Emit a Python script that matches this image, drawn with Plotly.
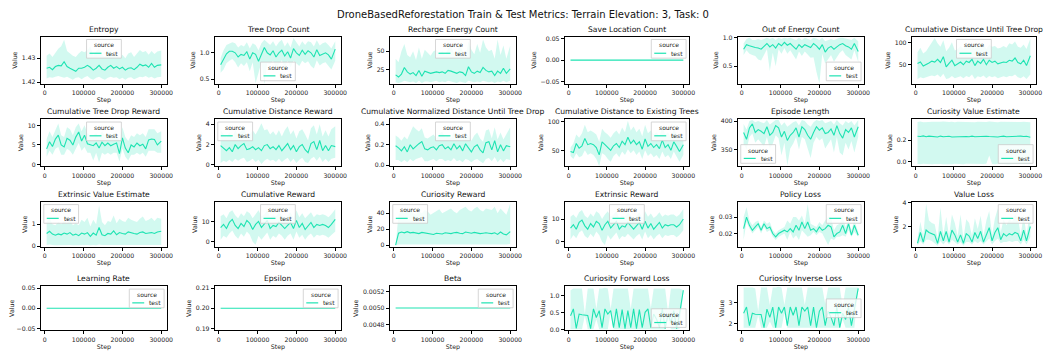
import plotly.graph_objects as go

# training steps shared by every metric
STEPS = [5000, 12500, 20000, 27500, 35000, 42500, 50000, 57500, 65000, 72500,
         80000, 87500, 95000, 102500, 110000, 117500, 125000, 132500, 140000, 147500,
         155000, 162500, 170000, 177500, 185000, 192500, 200000, 207500, 215000, 222500,
         230000, 237500, 245000, 252500, 260000, 267500, 275000, 282500, 290000, 300000]

entropy_mean = [1.4258, 1.4262, 1.4252, 1.4265, 1.4270, 1.4268, 1.4285, 1.4265, 1.4258, 1.4250,
                1.4245, 1.4258, 1.4258, 1.4262, 1.4270, 1.4262, 1.4250, 1.4258, 1.4270, 1.4255,
                1.4250, 1.4262, 1.4270, 1.4258, 1.4265, 1.4255, 1.4262, 1.4250, 1.4258, 1.4260,
                1.4252, 1.4262, 1.4275, 1.4268, 1.4272, 1.4262, 1.4278, 1.4262, 1.4270, 1.4272]
entropy_lo = [1.4215, 1.4220, 1.4218, 1.4222, 1.4225, 1.4220, 1.4218, 1.4222, 1.4215, 1.4210,
              1.4218, 1.4220, 1.4212, 1.4220, 1.4225, 1.4215, 1.4210, 1.4218, 1.4222, 1.4215,
              1.4210, 1.4218, 1.4222, 1.4218, 1.4220, 1.4212, 1.4218, 1.4210, 1.4218, 1.4220,
              1.4212, 1.4218, 1.4222, 1.4220, 1.4225, 1.4218, 1.4222, 1.4215, 1.4220, 1.4222]
entropy_hi = [1.4310, 1.4320, 1.4305, 1.4325, 1.4340, 1.4350, 1.4378, 1.4330, 1.4320, 1.4310,
              1.4305, 1.4320, 1.4330, 1.4325, 1.4335, 1.4350, 1.4310, 1.4330, 1.4340, 1.4315,
              1.4305, 1.4335, 1.4330, 1.4310, 1.4320, 1.4300, 1.4315, 1.4300, 1.4320, 1.4325,
              1.4305, 1.4318, 1.4335, 1.4325, 1.4330, 1.4315, 1.4330, 1.4318, 1.4328, 1.4332]

tree_mean = [0.77, 0.88, 0.98, 1.03, 1.03, 1.00, 0.92, 0.97, 0.95, 1.02,
             0.88, 1.00, 0.97, 0.84, 0.98, 1.10, 1.00, 0.96, 1.04, 0.92,
             1.00, 1.05, 0.94, 1.02, 0.90, 1.08, 1.00, 0.95, 1.05, 0.97,
             1.04, 1.00, 0.92, 1.06, 0.95, 0.98, 1.00, 0.96, 0.88, 1.07]
tree_lo = [0.62, 0.68, 0.80, 0.85, 0.88, 0.82, 0.72, 0.80, 0.75, 0.82,
           0.65, 0.82, 0.42, 0.60, 0.82, 0.40, 0.80, 0.78, 0.85, 0.70,
           0.78, 0.86, 0.72, 0.85, 0.72, 0.85, 0.80, 0.75, 0.85, 0.80,
           0.84, 0.75, 0.70, 0.86, 0.76, 0.80, 0.82, 0.75, 0.68, 0.85]
tree_hi = [0.90, 1.05, 1.15, 1.18, 1.20, 1.18, 1.10, 1.15, 1.12, 1.20,
           1.08, 1.18, 1.15, 1.05, 1.18, 1.25, 1.20, 1.15, 1.22, 1.12,
           1.20, 1.25, 1.12, 1.20, 1.10, 1.28, 1.20, 1.12, 1.22, 1.15,
           1.22, 1.20, 1.12, 1.24, 1.14, 1.18, 1.20, 1.15, 1.08, 1.22]

recharge_mean = [18, 15, 19, 28, 22, 19, 21, 17, 24, 16,
                 23, 22, 20, 21, 22, 21, 22, 20, 24, 23,
                 21, 20, 22, 21, 17, 29, 22, 20, 23, 21,
                 28, 24, 22, 23, 17, 23, 20, 27, 20, 26]
recharge_lo = [8, 7, 8, 10, 9, 8, 9, 7, 10, 7,
               9, 9, 8, 9, 10, 8, 9, 8, 10, 9,
               8, 7, 9, 8, 7, 10, 9, 8, 9, 8,
               10, 9, 8, 9, 7, 9, 8, 10, 8, 10]
recharge_hi = [40, 35, 50, 60, 45, 42, 50, 38, 55, 40,
               52, 48, 44, 50, 52, 46, 50, 45, 54, 56,
               48, 45, 62, 50, 42, 64, 52, 46, 60, 48,
               66, 55, 50, 52, 40, 66, 45, 58, 40, 58]

save_mean = [0, 0, 0, 0, 0, 0, 0, 0, 0, 0,
             0, 0, 0, 0, 0, 0, 0, 0, 0, 0,
             0, 0, 0, 0, 0, 0, 0, 0, 0, 0,
             0, 0, 0, 0, 0, 0, 0, 0, 0, 0]

energy_mean = [0.80, 0.88, 0.86, 0.84, 0.83, 0.82, 0.80, 0.85, 0.90, 0.84,
               0.88, 0.82, 0.90, 0.86, 0.92, 0.87, 0.90, 0.85, 0.80, 0.88,
               0.83, 0.88, 0.85, 0.83, 0.90, 0.86, 0.80, 0.88, 0.75, 0.82,
               0.85, 0.80, 0.84, 0.88, 0.90, 0.86, 0.84, 0.80, 0.90, 0.76]
energy_lo = [0.70, 0.78, 0.72, 0.70, 0.68, 0.62, 0.60, 0.70, 0.80, 0.42,
             0.74, 0.50, 0.80, 0.72, 0.82, 0.72, 0.78, 0.70, 0.62, 0.76,
             0.68, 0.76, 0.70, 0.65, 0.66, 0.40, 0.20, 0.72, 0.55, 0.62,
             0.70, 0.58, 0.66, 0.74, 0.78, 0.70, 0.66, 0.62, 0.78, 0.58]
energy_hi = [0.90, 0.98, 1.00, 0.96, 0.96, 0.98, 0.96, 0.98, 1.00, 0.98,
             1.00, 0.96, 1.00, 0.98, 1.00, 0.99, 1.00, 0.98, 0.96, 1.00,
             0.96, 1.00, 0.98, 0.96, 1.00, 0.99, 0.96, 1.00, 0.94, 0.96,
             0.98, 0.96, 0.98, 1.00, 1.00, 0.99, 0.98, 0.96, 1.00, 0.94]

dist_drop_mean = [53, 56, 47, 50, 54, 58, 56, 62, 55, 68,
                  45, 53, 60, 48, 52, 56, 50, 58, 55, 62,
                  48, 58, 53, 62, 50, 60, 55, 58, 52, 54,
                  56, 55, 60, 58, 65, 55, 52, 60, 48, 70]
dist_drop_lo = [18, 22, 20, 22, 24, 26, 24, 28, 22, 30,
                18, 20, 25, 20, 22, 24, 20, 25, 22, 28,
                18, 24, 22, 26, 20, 25, 22, 24, 20, 22,
                24, 22, 25, 24, 28, 22, 20, 24, 18, 28]
dist_drop_hi = [78, 88, 75, 80, 90, 100, 110, 98, 90, 105,
                80, 88, 100, 82, 85, 92, 85, 95, 90, 98,
                85, 95, 88, 98, 85, 95, 90, 92, 86, 88,
                92, 88, 98, 95, 102, 90, 88, 95, 85, 108]

tree_rew_mean = [4.0, 5.8, 4.6, 6.5, 7.5, 5.0, 4.5, 6.7, 6.2, 5.0,
                 7.0, 8.3, 6.0, 7.5, 5.3, 5.0, 4.8, 5.5, 4.2, 5.7,
                 4.8, 5.5, 4.8, 5.2, 5.5, 2.8, 6.8, 4.2, 3.0, 5.0,
                 4.5, 5.5, 4.8, 5.2, 4.0, 6.3, 6.5, 6.4, 5.0, 6.0]
tree_rew_lo = [2.0, 3.5, 2.5, 4.0, 4.5, 2.5, 2.5, 4.0, 3.5, 2.5,
               4.0, 5.5, 3.5, 4.5, 3.0, 3.0, 1.0, 3.0, 0.5, 3.0,
               2.5, 3.0, 2.5, 3.0, 3.0, 0.8, 4.0, 2.0, 1.0, 2.5,
               2.5, 3.0, 2.5, 3.0, 2.0, 3.5, 3.5, 3.5, 3.0, 3.0]
tree_rew_hi = [6.5, 8.5, 7.0, 9.0, 10.5, 7.5, 7.0, 9.5, 9.0, 7.5,
               9.5, 10.5, 8.5, 10.0, 8.0, 7.5, 7.5, 8.0, 7.0, 8.5,
               7.5, 8.0, 7.5, 8.0, 8.0, 6.0, 9.5, 7.0, 6.0, 7.5,
               7.0, 8.0, 7.5, 8.0, 7.0, 9.0, 9.0, 9.0, 8.0, 8.5]

dist_rew_mean = [1.9, 1.6, 1.4, 1.7, 1.3, 2.0, 1.6, 1.9, 2.1, 1.5,
                 1.6, 1.8, 1.5, 1.7, 1.4, 1.9, 2.0, 1.6, 1.8, 1.5,
                 1.9, 1.4, 1.8, 2.1, 1.5, 1.9, 1.3, 1.8, 2.0, 1.5,
                 1.2, 2.1, 2.3, 1.5, 2.4, 1.4, 1.9, 1.4, 1.9, 1.8]
dist_rew_lo = [0.2, 0.4, 0.3, 0.5, 0.3, 0.6, 0.4, 0.6, 0.7, 0.3,
               0.4, 0.6, 0.3, 0.5, 0.1, 0.4, 0.6, 0.4, 0.5, 0.3,
               0.6, 0.3, 0.5, 0.7, 0.3, 0.6, 0.2, 0.5, 0.7, 0.3,
               0.2, 0.6, 0.8, 0.4, 0.8, 0.3, 0.6, 0.3, 0.6, 0.7]
dist_rew_hi = [3.4, 3.0, 2.7, 3.2, 2.6, 3.4, 3.0, 3.3, 3.6, 2.9,
               3.0, 3.4, 3.0, 3.5, 4.1, 3.4, 3.5, 3.0, 3.3, 2.9,
               3.4, 2.8, 3.4, 3.8, 3.0, 3.4, 2.6, 3.3, 3.5, 3.0,
               2.4, 3.6, 3.9, 3.0, 4.0, 2.8, 3.4, 2.8, 3.5, 3.8]

norm_mean = [0.19, 0.17, 0.14, 0.18, 0.13, 0.20, 0.16, 0.19, 0.21, 0.23,
             0.16, 0.15, 0.17, 0.18, 0.15, 0.19, 0.20, 0.16, 0.18, 0.15,
             0.21, 0.16, 0.19, 0.14, 0.21, 0.17, 0.13, 0.18, 0.20, 0.15,
             0.12, 0.22, 0.23, 0.15, 0.24, 0.13, 0.20, 0.14, 0.19, 0.18]
norm_lo = [0.05, 0.05, 0.03, 0.05, 0.03, 0.06, 0.04, 0.06, 0.07, 0.08,
           0.04, 0.04, 0.05, 0.06, 0.04, 0.06, 0.06, 0.04, 0.05, 0.04,
           0.07, 0.04, 0.05, 0.03, 0.06, 0.05, 0.03, 0.05, 0.06, 0.04,
           0.02, 0.06, 0.07, 0.04, 0.08, 0.03, 0.06, 0.03, 0.06, 0.05]
norm_hi = [0.29, 0.27, 0.24, 0.28, 0.25, 0.32, 0.38, 0.35, 0.33, 0.36,
           0.27, 0.26, 0.28, 0.30, 0.26, 0.31, 0.33, 0.27, 0.29, 0.26,
           0.33, 0.27, 0.30, 0.25, 0.33, 0.28, 0.24, 0.29, 0.32, 0.26,
           0.23, 0.34, 0.35, 0.26, 0.37, 0.25, 0.32, 0.25, 0.30, 0.37]

exist_mean = [48, 46, 62, 54, 58, 71, 60, 62, 60, 55,
              42, 65, 60, 55, 50, 58, 62, 55, 66, 60,
              73, 62, 68, 60, 65, 52, 70, 57, 62, 55,
              60, 53, 68, 55, 60, 50, 65, 57, 48, 60]
exist_lo = [40, 35, 45, 38, 40, 50, 42, 45, 42, 35,
            22, 45, 42, 35, 30, 40, 45, 38, 48, 42,
            52, 45, 50, 42, 48, 35, 50, 40, 45, 38,
            42, 35, 48, 38, 42, 35, 48, 40, 30, 42]
exist_hi = [55, 62, 78, 72, 80, 95, 82, 85, 82, 78,
            65, 88, 82, 78, 72, 80, 85, 78, 90, 82,
            102, 85, 92, 82, 88, 75, 95, 80, 85, 78,
            82, 75, 92, 78, 82, 72, 88, 80, 70, 82]

ep_len_mean = [380, 368, 388, 395, 380, 385, 382, 378, 390, 375,
               380, 392, 388, 372, 382, 366, 375, 380, 388, 372,
               390, 385, 375, 368, 380, 390, 384, 388, 378, 380,
               386, 375, 392, 378, 370, 385, 380, 388, 372, 390]
ep_len_lo = [360, 350, 372, 378, 362, 368, 362, 355, 372, 352,
             360, 375, 370, 340, 362, 322, 352, 360, 372, 350,
             372, 368, 352, 335, 362, 372, 366, 370, 352, 360,
             368, 345, 372, 345, 340, 362, 350, 365, 345, 372]
ep_len_hi = [395, 385, 400, 402, 398, 400, 398, 396, 402, 394,
             398, 402, 402, 392, 398, 390, 394, 398, 400, 392,
             402, 400, 394, 390, 398, 402, 400, 402, 396, 398,
             400, 394, 402, 396, 392, 400, 396, 400, 392, 402]

cur_val_mean = [0.235, 0.232, 0.238, 0.230, 0.236, 0.232, 0.234, 0.228, 0.236, 0.230,
                0.232, 0.234, 0.228, 0.230, 0.232, 0.230, 0.234, 0.232, 0.230, 0.236,
                0.230, 0.232, 0.228, 0.230, 0.234, 0.232, 0.230, 0.234, 0.228, 0.232,
                0.236, 0.230, 0.232, 0.234, 0.230, 0.232, 0.236, 0.232, 0.234, 0.226]
cur_val_lo = [-0.018, -0.020, -0.016, -0.019, -0.017, -0.020, -0.018, -0.016, -0.019, -0.020,
              -0.017, -0.018, -0.020, -0.016, -0.019, -0.018, -0.020, -0.017, -0.019, -0.018,
              -0.016, -0.020, -0.018, -0.019, -0.017, 0.060, -0.018, -0.020, -0.016, -0.019,
              -0.018, -0.017, -0.020, -0.018, -0.019, -0.016, -0.018, -0.020, -0.017, -0.018]
cur_val_hi = [0.365, 0.368, 0.362, 0.366, 0.364, 0.367, 0.365, 0.363, 0.366, 0.368,
              0.364, 0.365, 0.367, 0.363, 0.366, 0.365, 0.368, 0.364, 0.366, 0.365,
              0.363, 0.367, 0.365, 0.366, 0.364, 0.368, 0.365, 0.367, 0.363, 0.366,
              0.365, 0.364, 0.367, 0.365, 0.366, 0.363, 0.365, 0.367, 0.364, 0.362]

ext_val_mean = [0.58, 0.68, 0.55, 0.50, 0.56, 0.52, 0.60, 0.55, 0.62, 0.50,
                0.55, 0.48, 0.60, 0.55, 0.62, 0.45, 0.60, 0.50, 0.85, 0.52,
                0.48, 0.58, 0.55, 0.70, 0.52, 0.62, 0.58, 0.55, 0.65, 0.60,
                0.58, 0.55, 0.62, 0.65, 0.58, 0.60, 0.62, 0.58, 0.65, 0.68]
ext_val_lo = [0.05, 0.08, 0.05, 0.04, 0.05, 0.05, 0.06, 0.05, 0.06, 0.04,
              0.05, 0.04, 0.06, 0.05, 0.06, 0.04, 0.06, 0.04, 0.08, 0.05,
              0.04, 0.05, 0.05, 0.06, 0.05, 0.06, 0.05, 0.05, 0.06, 0.05,
              0.05, 0.05, 0.06, 0.06, 0.05, 0.05, 0.06, 0.05, 0.06, 0.06]
ext_val_hi = [1.10, 1.30, 1.00, 0.95, 1.10, 1.00, 1.15, 1.05, 1.20, 0.95,
              1.05, 0.95, 1.20, 1.10, 1.30, 0.90, 1.20, 1.00, 1.85, 1.10,
              0.95, 1.15, 1.10, 1.40, 1.05, 1.25, 1.15, 1.10, 1.30, 1.20,
              1.15, 1.10, 1.25, 1.35, 1.15, 1.20, 1.30, 1.15, 1.30, 1.25]

cum_rew_mean = [7.0, 8.5, 6.5, 9.5, 11.0, 8.0, 6.5, 9.0, 7.5, 10.5,
                9.0, 6.0, 8.5, 10.0, 7.0, 8.5, 10.5, 6.5, 8.0, 7.5,
                9.5, 8.0, 6.5, 8.0, 9.5, 6.5, 10.5, 7.0, 9.0, 6.0,
                8.0, 9.5, 7.0, 8.5, 8.0, 8.5, 8.0, 7.0, 8.5, 11.0]
cum_rew_lo = [1.0, 3.0, 2.0, 4.0, 5.5, 3.0, 1.5, 4.0, 2.5, 5.0,
              3.5, 0.0, -1.5, 3.0, 1.0, 2.5, 4.5, 1.0, 3.0, 2.0,
              4.0, 3.0, 1.0, 3.0, 4.0, 1.0, 5.0, 2.0, 3.5, 1.0,
              3.0, 4.0, 2.0, 3.5, 3.0, 3.5, 3.0, 2.0, 3.5, 5.0]
cum_rew_hi = [12.5, 13.5, 11.5, 14.5, 15.5, 13.0, 11.5, 14.0, 12.5, 15.0,
              14.0, 11.5, 13.5, 15.5, 12.5, 13.5, 15.5, 12.0, 13.0, 12.5,
              14.5, 13.0, 11.5, 13.0, 14.5, 11.5, 15.5, 12.0, 14.0, 11.5,
              13.0, 14.5, 12.0, 13.5, 13.0, 13.5, 13.0, 12.0, 13.5, 16.0]

cur_rew_mean = [0.0, 15.0, 16.5, 15.5, 17.0, 15.5, 16.0, 15.0, 14.5, 16.0,
                15.5, 15.0, 14.0, 13.5, 15.0, 14.5, 14.0, 15.5, 15.0, 14.5,
                15.5, 16.0, 15.0, 14.5, 16.5, 15.5, 15.0, 16.0, 15.5, 14.5,
                15.0, 15.5, 15.0, 14.5, 15.5, 13.5, 16.5, 14.0, 13.0, 17.0]
cur_rew_lo = [0.0, 1.0, 1.5, 1.0, 1.5, 1.0, 1.5, 1.0, 1.0, 1.5,
              1.0, 1.0, 1.0, 1.0, 1.0, 1.0, 1.0, 1.5, 1.0, 1.0,
              1.5, 1.5, 1.0, 1.0, 1.5, 1.0, 1.0, 1.5, 1.0, 1.0,
              1.0, 1.5, 1.0, 1.0, 1.5, 1.0, 1.5, 1.0, 1.0, 1.5]
cur_rew_hi = [0.0, 38, 43, 40, 42, 44, 40, 38, 42, 40,
              44, 42, 38, 40, 42, 45, 40, 42, 44, 46,
              42, 40, 44, 46, 48, 44, 42, 46, 48, 44,
              42, 46, 45, 44, 48, 40, 46, 42, 38, 52]

ext_rew_mean = [6.0, 7.5, 5.5, 8.5, 9.5, 7.0, 5.5, 8.0, 6.5, 9.0,
                8.0, 5.0, 7.5, 9.0, 6.0, 7.5, 9.0, 5.5, 7.0, 6.5,
                8.5, 7.0, 5.5, 7.0, 8.5, 5.5, 9.0, 6.0, 8.0, 5.5,
                7.0, 8.5, 6.0, 7.5, 7.0, 7.5, 7.5, 6.5, 7.5, 10.0]
ext_rew_lo = [1.0, 3.0, 1.5, 4.0, 5.0, 2.5, 1.5, 3.5, 2.0, 4.5,
              3.0, 0.0, -1.5, 3.0, 1.0, 2.5, 4.0, 1.0, 2.5, 2.0,
              3.5, 2.5, 1.0, 2.5, 3.5, 1.0, 4.5, 1.5, 3.0, 1.0,
              2.5, 3.5, 1.5, 3.0, 2.5, 3.0, 3.0, 2.0, 3.0, 5.0]
ext_rew_hi = [11.0, 12.0, 10.5, 13.0, 14.0, 11.5, 10.5, 12.5, 11.0, 13.5,
              12.5, 10.0, 12.0, 13.5, 11.0, 12.0, 13.5, 10.5, 11.5, 11.0,
              13.0, 11.5, 10.0, 11.5, 13.0, 10.5, 13.5, 11.0, 12.5, 10.5,
              11.5, 13.0, 11.0, 12.0, 11.5, 12.0, 12.0, 11.0, 12.0, 14.5]

pol_mean = [0.023, 0.030, 0.025, 0.022, 0.024, 0.026, 0.022, 0.026, 0.023, 0.024,
            0.020, 0.018, 0.020, 0.021, 0.022, 0.021, 0.023, 0.021, 0.025, 0.022,
            0.027, 0.023, 0.027, 0.022, 0.023, 0.021, 0.024, 0.022, 0.023, 0.025,
            0.024, 0.018, 0.020, 0.021, 0.025, 0.020, 0.026, 0.019, 0.025, 0.019]
pol_lo = [0.016, 0.027, 0.023, 0.020, 0.022, 0.024, 0.020, 0.024, 0.021, 0.022,
          0.018, 0.016, 0.018, 0.019, 0.020, 0.016, 0.021, 0.017, 0.019, 0.016,
          0.022, 0.020, 0.018, 0.019, 0.021, 0.019, 0.021, 0.020, 0.017, 0.013,
          0.017, 0.016, 0.018, 0.018, 0.019, 0.018, 0.022, 0.018, 0.021, 0.018]
pol_hi = [0.030, 0.036, 0.028, 0.025, 0.027, 0.028, 0.024, 0.028, 0.026, 0.027,
          0.022, 0.020, 0.022, 0.023, 0.024, 0.028, 0.026, 0.030, 0.030, 0.028,
          0.031, 0.026, 0.038, 0.026, 0.025, 0.024, 0.027, 0.025, 0.028, 0.030,
          0.030, 0.022, 0.025, 0.026, 0.030, 0.024, 0.028, 0.022, 0.028, 0.021]

vloss_mean = [0.6, 1.5, 0.7, 1.7, 1.5, 1.4, 1.3, 0.6, 1.6, 0.8,
              1.6, 0.7, 1.7, 1.3, 0.7, 1.3, 0.6, 1.4, 1.2, 0.7,
              1.5, 1.0, 1.6, 0.7, 1.3, 1.9, 0.8, 1.5, 1.9, 0.9,
              1.4, 1.2, 1.4, 1.3, 1.5, 1.4, 0.8, 1.7, 0.8, 2.0]
vloss_lo = [0.4, 0.8, 0.5, 0.9, 0.9, 0.8, 0.6, 0.4, 0.8, 0.5,
            0.8, 0.5, 0.9, 0.7, 0.5, 0.7, 0.4, 0.7, 0.7, 0.5,
            0.8, 0.6, 0.8, 0.5, 0.7, 1.0, 0.5, 0.8, 1.0, 0.6,
            0.7, 0.7, 0.8, 0.7, 0.8, 0.8, 0.5, 0.9, 0.5, 1.1]
vloss_hi = [1.0, 2.4, 1.2, 3.9, 2.5, 2.3, 2.2, 1.0, 3.6, 1.3,
            2.8, 1.2, 3.0, 2.3, 1.2, 3.0, 1.0, 2.6, 2.3, 1.2,
            2.7, 1.8, 2.9, 1.2, 2.5, 3.3, 1.3, 2.7, 3.5, 1.5,
            2.6, 2.1, 2.6, 2.4, 3.0, 2.7, 1.3, 3.0, 1.3, 3.5]

lr_mean = save_mean
eps_mean = [0.2, 0.2, 0.2, 0.2, 0.2, 0.2, 0.2, 0.2, 0.2, 0.2,
            0.2, 0.2, 0.2, 0.2, 0.2, 0.2, 0.2, 0.2, 0.2, 0.2,
            0.2, 0.2, 0.2, 0.2, 0.2, 0.2, 0.2, 0.2, 0.2, 0.2,
            0.2, 0.2, 0.2, 0.2, 0.2, 0.2, 0.2, 0.2, 0.2, 0.2]
beta_mean = [0.005, 0.005, 0.005, 0.005, 0.005, 0.005, 0.005, 0.005, 0.005, 0.005,
             0.005, 0.005, 0.005, 0.005, 0.005, 0.005, 0.005, 0.005, 0.005, 0.005,
             0.005, 0.005, 0.005, 0.005, 0.005, 0.005, 0.005, 0.005, 0.005, 0.005,
             0.005, 0.005, 0.005, 0.005, 0.005, 0.005, 0.005, 0.005, 0.005, 0.005]

fwd_mean = [0.40, 0.60, 0.03, 0.45, 0.43, 0.42, 0.41, 0.02, 0.60, 0.35,
            0.55, 0.05, 0.60, 0.45, 0.55, 0.05, 0.60, 0.05, 0.58, 0.02,
            0.55, 0.05, 0.60, 0.02, 0.58, 0.05, 0.50, 0.60, 0.05, 0.45,
            0.30, 0.05, 0.60, 0.02, 0.45, 0.20, 0.55, 0.02, 0.45, 1.15]
fwd_lo = [0.00, 0.00, 0.00, 0.00, 0.00, 0.40, 0.00, 0.00, 0.00, 0.30,
          0.00, 0.00, 0.00, 0.00, 0.50, 0.00, 0.00, 0.00, 0.00, 0.00,
          0.00, 0.00, 0.00, 0.00, 0.00, 0.00, 0.00, 0.00, 0.00, 0.00,
          0.00, 0.00, 0.00, 0.00, 0.30, 0.00, 0.00, 0.00, 0.00, 1.10]
fwd_hi = [1.15, 1.20, 1.20, 1.20, 1.20, 0.45, 1.20, 1.20, 1.20, 0.60,
          1.20, 1.20, 1.22, 1.20, 0.60, 1.20, 1.20, 1.20, 1.22, 1.20,
          1.20, 0.60, 1.20, 1.20, 1.20, 1.18, 1.20, 1.20, 0.62, 1.20,
          1.20, 1.20, 1.20, 1.20, 0.50, 1.20, 1.20, 1.20, 1.20, 1.15]

inv_mean = [2.50, 2.80, 1.90, 2.50, 2.45, 2.45, 2.44, 1.80, 2.70, 2.30,
            2.80, 1.80, 2.80, 2.50, 2.80, 1.90, 2.80, 2.40, 2.80, 1.90,
            2.80, 2.60, 2.80, 1.90, 2.80, 1.80, 2.60, 2.80, 1.90, 2.60,
            2.30, 1.90, 2.80, 1.80, 2.50, 2.20, 2.80, 1.90, 2.60, 3.70]
inv_lo = [1.80, 1.80, 1.80, 1.80, 1.80, 2.40, 1.80, 1.78, 1.80, 2.10,
          1.80, 1.78, 1.80, 1.80, 2.50, 1.80, 1.80, 1.80, 1.80, 1.80,
          1.80, 1.80, 1.80, 1.80, 1.80, 1.78, 1.80, 1.80, 1.80, 1.80,
          1.80, 1.80, 1.80, 1.78, 2.20, 1.80, 1.80, 1.80, 1.80, 3.65]
inv_hi = [3.75, 3.75, 3.75, 3.75, 3.70, 2.60, 3.75, 3.75, 3.75, 2.90,
          3.75, 3.75, 3.78, 3.75, 2.90, 3.75, 3.75, 3.75, 3.78, 3.75,
          3.75, 2.90, 3.75, 3.75, 3.75, 3.72, 3.75, 3.75, 2.95, 3.75,
          3.75, 3.75, 3.75, 3.75, 2.80, 3.75, 3.75, 3.75, 3.75, 3.75]

# title, mean, lower band, upper band
metrics = [
    ("Entropy", entropy_mean, entropy_lo, entropy_hi),
    ("Tree Drop Count", tree_mean, tree_lo, tree_hi),
    ("Recharge Energy Count", recharge_mean, recharge_lo, recharge_hi),
    ("Save Location Count", save_mean, save_mean, save_mean),
    ("Out of Energy Count", energy_mean, energy_lo, energy_hi),
    ("Cumulative Distance Until Tree Drop", dist_drop_mean, dist_drop_lo, dist_drop_hi),
    ("Cumulative Tree Drop Reward", tree_rew_mean, tree_rew_lo, tree_rew_hi),
    ("Cumulative Distance Reward", dist_rew_mean, dist_rew_lo, dist_rew_hi),
    ("Cumulative Normalized Distance Until Tree Drop", norm_mean, norm_lo, norm_hi),
    ("Cumulative Distance to Existing Trees", exist_mean, exist_lo, exist_hi),
    ("Episode Length", ep_len_mean, ep_len_lo, ep_len_hi),
    ("Curiosity Value Estimate", cur_val_mean, cur_val_lo, cur_val_hi),
    ("Extrinsic Value Estimate", ext_val_mean, ext_val_lo, ext_val_hi),
    ("Cumulative Reward", cum_rew_mean, cum_rew_lo, cum_rew_hi),
    ("Curiosity Reward", cur_rew_mean, cur_rew_lo, cur_rew_hi),
    ("Extrinsic Reward", ext_rew_mean, ext_rew_lo, ext_rew_hi),
    ("Policy Loss", pol_mean, pol_lo, pol_hi),
    ("Value Loss", vloss_mean, vloss_lo, vloss_hi),
    ("Learning Rate", lr_mean, lr_mean, lr_mean),
    ("Epsilon", eps_mean, eps_mean, eps_mean),
    ("Beta", beta_mean, beta_mean, beta_mean),
    ("Curiosity Forward Loss", fwd_mean, fwd_lo, fwd_hi),
    ("Curiosity Inverse Loss", inv_mean, inv_lo, inv_hi),
]

# per panel axis setup: y range, y ticks, tick format, legend location
axis_cfg = [
    ([1.4193, 1.4391], [1.42, 1.43], ".2f", "uc"),
    ([0.41, 1.31], [0.5, 1.0], ".1f", "lc"),
    ([5.9, 70], [25, 50], "d", "uc"),
    ([-0.055, 0.055], [-0.05, 0.0, 0.05], ".2f", "ur"),
    ([0.195, 1.022], [0.5, 1.0], ".1f", "lr"),
    ([7.5, 113], [50, 100], "d", "uc"),
    ([-0.45, 11.6], [0, 5, 10], "d", "uc"),
    ([-0.13, 4.5], [0, 2, 4], "d", "ul"),
    ([-0.01, 0.45], [0.0, 0.2, 0.4], ".1f", "uc"),
    ([22, 105], [50, 100], "d", "ur"),
    ([320.7, 403.4], [350, 400], "d", "ll"),
    ([-0.039, 0.391], [0.0, 0.2], ".1f", "lr"),
    ([-0.03, 2.03], [0, 1], "d", "ul"),
    ([-2.5, 19.7], [0, 10], "d", "uc"),
    ([-2.0, 54.4], [0, 20, 40], "d", "ul"),
    ([-2.3, 17.7], [0, 10], "d", "uc"),
    ([0.0119, 0.0394], [0.02, 0.03], ".2f", "ur"),
    ([0.3, 4.08], [2, 4], "d", "ur"),
    ([-0.055, 0.055], [-0.05, 0.0, 0.05], ".2f", "ur"),
    ([0.189, 0.211], [0.19, 0.20, 0.21], ".2f", "ur"),
    ([0.004733, 0.005262], [0.0048, 0.0050, 0.0052], ".4f", "ur"),
    ([-0.03, 1.27], [0.0, 0.5, 1.0], ".1f", "lr"),
    ([1.67, 3.81], [2, 3], "d", "cr"),
]

# the page body has an 8px margin, so the figure is drawn 8px in from the window corner
OFF = 8
W, H = 1052 - OFF, 355 - OFF
col_left = [41, 216, 392, 568, 742, 917]
col_w = [127, 127, 127, 125, 127, 125]
row_top = [34, 118, 202, 288]
row_h = [48, 48, 46, 45]

LINE = "#1ee3b2"
BAND = "rgba(30,227,178,0.2)"
FONT = "DejaVu Sans"
TXT = "#222222"

# legend box size in px
LB_W, LB_H, PAD = 35, 19, 3

fig = go.Figure()
annotations = []
shapes = []
layout = {}

for i, (name, mean, lo, hi) in enumerate(metrics):
    k = i + 1
    r, c = divmod(i, 6)
    sx = "" if k == 1 else str(k)
    aw, ah = col_w[c], row_h[r]
    x0 = (col_left[c] - OFF) / W
    x1 = (col_left[c] - OFF + aw) / W
    y1 = 1 - (row_top[r] - OFF) / H
    y0 = 1 - (row_top[r] - OFF + ah) / H
    yr, yt, yfmt, loc = axis_cfg[i]

    fig.add_trace(go.Scatter(
        x=STEPS + STEPS[::-1], y=hi + lo[::-1], fill="toself",
        fillcolor=BAND, line=dict(width=0), mode="lines",
        hoverinfo="skip", showlegend=False, xaxis="x" + sx, yaxis="y" + sx))
    fig.add_trace(go.Scatter(
        x=STEPS, y=mean, mode="lines", name="test",
        line=dict(color=LINE, width=1.1), showlegend=False,
        xaxis="x" + sx, yaxis="y" + sx))

    axis_common = dict(showline=True, mirror=True, linecolor="black", linewidth=1,
                       ticks="outside", ticklen=3, tickwidth=0.8, tickcolor="black",
                       showgrid=False, zeroline=False,
                       tickfont=dict(family=FONT, size=6.2, color=TXT))
    layout["xaxis" + sx] = dict(
        axis_common, domain=[x0, x1], anchor="y" + sx, range=[-10000, 315000],
        tickvals=[0, 100000, 200000, 300000], tickformat="d",
        title=dict(text="Step", font=dict(family=FONT, size=6.3, color=TXT), standoff=1))
    layout["yaxis" + sx] = dict(
        axis_common, domain=[y0, y1], anchor="x" + sx, range=yr,
        tickvals=yt, tickformat=yfmt,
        title=dict(text="Value", font=dict(family=FONT, size=6.3, color=TXT), standoff=3))

    # seaborn style legend box inside each panel
    if loc == "uc":
        lx, ly = (aw - LB_W) / 2, ah - PAD - LB_H
    elif loc == "lc":
        lx, ly = (aw - LB_W) / 2, PAD
    elif loc == "ur":
        lx, ly = aw - PAD - LB_W, ah - PAD - LB_H
    elif loc == "lr":
        lx, ly = aw - PAD - LB_W, PAD
    elif loc == "ul":
        lx, ly = PAD, ah - PAD - LB_H
    elif loc == "ll":
        lx, ly = PAD, PAD
    else:
        lx, ly = aw - PAD - LB_W, (ah - LB_H) / 2
    xd, yd = "x" + sx + " domain", "y" + sx + " domain"
    shapes.append(dict(type="rect", xref=xd, yref=yd, layer="above",
                       x0=lx / aw, x1=(lx + LB_W) / aw, y0=ly / ah, y1=(ly + LB_H) / ah,
                       line=dict(color="#cccccc", width=0.8), fillcolor="rgba(255,255,255,0.8)"))
    shapes.append(dict(type="line", xref=xd, yref=yd, layer="above",
                       x0=(lx + 3) / aw, x1=(lx + 15) / aw, y0=(ly + 5) / ah, y1=(ly + 5) / ah,
                       line=dict(color=LINE, width=1.2)))
    annotations.append(dict(text="source", xref=xd, yref=yd, x=(lx + LB_W / 2) / aw,
                            y=(ly + LB_H - 5.5) / ah, xanchor="center", yanchor="middle",
                            showarrow=False, font=dict(family=FONT, size=6, color=TXT)))
    annotations.append(dict(text="test", xref=xd, yref=yd, x=(lx + 18) / aw,
                            y=(ly + 5) / ah, xanchor="left", yanchor="middle",
                            showarrow=False, font=dict(family=FONT, size=6, color=TXT)))

    annotations.append(dict(
        text=name, x=(x0 + x1) / 2, y=y1, xref="paper", yref="paper",
        xanchor="center", yanchor="bottom", yshift=1, showarrow=False,
        font=dict(family=FONT, size=7.6, color="#111")))

annotations.append(dict(
    text="DroneBasedReforestation Train & Test Metrics: Terrain Elevation: 3, Task: 0",
    x=(526 - OFF) / W, y=1 - (12 - OFF) / H, xref="paper", yref="paper",
    xanchor="center", yanchor="middle",
    showarrow=False, font=dict(family=FONT, size=10, color="#111")))

fig.update_layout(
    width=W, height=H, autosize=False,
    margin=dict(l=0, r=0, t=0, b=0),
    paper_bgcolor="white", plot_bgcolor="white",
    showlegend=False,
    annotations=annotations, shapes=shapes,
    **layout)

fig.write_html("out.html")
